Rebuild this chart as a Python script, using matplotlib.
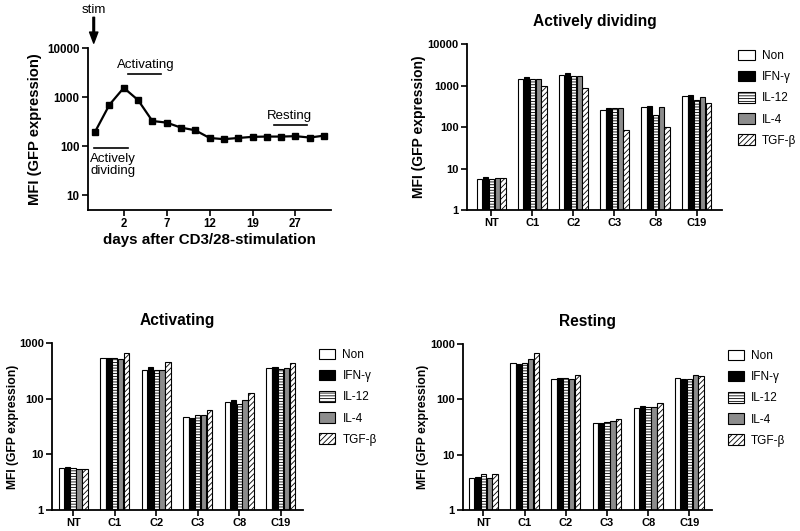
import numpy as np
import matplotlib
matplotlib.use("Agg")
import matplotlib.pyplot as plt
from matplotlib.patches import Patch
from matplotlib.ticker import FixedLocator, NullLocator

plt.rcParams['font.family'] = ['Liberation Sans', 'DejaVu Sans']
plt.rcParams['hatch.linewidth'] = 0.6

# ---- data ----
day_labels = ["2", "7", "12", "19", "27"]
day_label_pos = [2, 5, 8, 11, 14]
mfi_time = [198, 700, 1545, 870, 326, 302, 239, 211, 147, 139, 147,
            155, 157, 157, 160, 150, 164]

clones = ["NT", "C1", "C2", "C3", "C8", "C19"]
treatments = ["Non", "IFN-γ", "IL-12", "IL-4", "TGF-β"]

dividing = {
    "Non":   [5.7, 1408, 1758, 262, 303, 548],
    "IFN-γ": [6.1, 1575, 1965, 282, 327, 590],
    "IL-12": [5.7, 1408, 1725, 280, 198, 447],
    "IL-4":  [5.9, 1462, 1663, 280, 298, 528],
    "TGF-β": [5.9, 955, 887, 83, 98, 386],
}
activating = {
    "Non":   [5.6, 544, 326, 46.5, 85.5, 354],
    "IFN-γ": [5.9, 537, 375, 45.3, 92.9, 364],
    "IL-12": [5.6, 537, 331, 50.5, 80.9, 345],
    "IL-4":  [5.5, 522, 331, 50.5, 92.9, 354],
    "TGF-β": [5.5, 660, 461, 61.4, 126, 442],
}
resting = {
    "Non":   [3.84, 454, 233, 37.3, 70.7, 240],
    "IFN-γ": [3.9, 435, 240, 37.3, 74.7, 236],
    "IL-12": [4.41, 460, 240, 38.4, 72.6, 236],
    "IL-4":  [3.73, 528, 230, 40.6, 73.7, 279],
    "TGF-β": [4.54, 697, 271, 43.5, 85.9, 268],
}

styles = {
    "Non":   dict(facecolor="white", hatch=None),
    "IFN-γ": dict(facecolor="black", hatch=None),
    "IL-12": dict(facecolor="white", hatch="------"),
    "IL-4":  dict(facecolor="#8c8c8c", hatch=None),
    "TGF-β": dict(facecolor="white", hatch="//////"),
}

fig = plt.figure(figsize=(8, 5.31), dpi=100)


def style_axes(ax, size=8):
    for s in ["top", "right"]:
        ax.spines[s].set_visible(False)
    for s in ["left", "bottom"]:
        ax.spines[s].set_linewidth(1.3)
    ax.tick_params(width=1.2, length=4, labelsize=size, pad=2)
    for lab in ax.get_xticklabels() + ax.get_yticklabels():
        lab.set_fontweight("bold")


def log_ticks(ax, top):
    ax.set_yscale("log")
    vals = [v for v in [1, 10, 100, 1000, 10000] if v <= top]
    ax.yaxis.set_major_locator(FixedLocator(vals))
    ax.yaxis.set_minor_locator(NullLocator())
    ax.set_yticklabels([str(v) for v in vals])


# ---- time course ----
ax0 = fig.add_axes([0.110, 0.6045, 0.304, 0.305])
x = np.arange(len(mfi_time))
ax0.plot(x, mfi_time, color="black", lw=1.6, marker="s", ms=5)
log_ticks(ax0, 10000)
ax0.set_ylim(5, 10000)
ax0.set_xlim(-0.5, 16.5)
ax0.set_xticks(day_label_pos)
ax0.set_xticklabels(day_labels)
style_axes(ax0, 8.3)
ax0.set_ylabel("MFI (GFP expression)", fontsize=10.6, fontweight="bold", labelpad=4)
ax0.set_xlabel("days after CD3/28-stimulation", fontsize=10.9, fontweight="bold", labelpad=2)

ax0.plot([-0.07, 2.3], [90, 90], color="black", lw=1.2)
ax0.text(-0.35, 72, "Actively\ndividing", fontsize=9.5, va="top", ha="left", linespacing=1.0)
ax0.plot([2.3, 4.6], [2900, 2900], color="black", lw=1.2)
ax0.text(1.5, 3400, "Activating", fontsize=9.5, va="bottom", ha="left")
ax0.plot([12.5, 14.8], [267, 267], color="black", lw=1.2)
ax0.text(12.0, 310, "Resting", fontsize=9.5, va="bottom", ha="left")
ax0.annotate("", xy=(-0.1, 1.03), xytext=(-0.1, 1.19),
             xycoords=("data", "axes fraction"), textcoords=("data", "axes fraction"),
             arrowprops=dict(facecolor="black", edgecolor="black", width=1.2,
                             headwidth=6, headlength=8))
ax0.text(-0.1, 1.235, "stim", fontsize=9.5, ha="center", va="center",
         transform=ax0.get_xaxis_transform())


# ---- bar charts ----
def bar_panel(rect, data, title, top, xlim, ylab_size, ylab_pad):
    ax = fig.add_axes(rect)
    xc = np.arange(len(clones))
    step = 0.142
    for i, t in enumerate(treatments):
        st = styles[t]
        ax.bar(xc + (i - 2) * step, data[t], width=step * 0.92,
               facecolor=st["facecolor"], hatch=st["hatch"],
               edgecolor="black", linewidth=0.8)
    log_ticks(ax, top)
    ax.set_ylim(1, top)
    ax.set_xlim(*xlim)
    ax.set_xticks(xc)
    ax.set_xticklabels(clones)
    style_axes(ax, 8)
    ax.set_ylabel("MFI (GFP expression)", fontsize=ylab_size, fontweight="bold",
                  labelpad=ylab_pad)
    ax.set_title(title, fontsize=11.2, fontweight="bold", pad=13)
    handles = [Patch(facecolor=styles[t]["facecolor"], hatch=styles[t]["hatch"],
                     edgecolor="black", linewidth=0.8, label=t) for t in treatments]
    ax.legend(handles=handles, loc="upper left", bbox_to_anchor=(1.02, 1.03),
              frameon=False, fontsize=8.5, handlelength=1.4, handleheight=1.0,
              labelspacing=0.75, handletextpad=0.6)
    return ax


bar_panel([0.584, 0.6045, 0.319, 0.3126], dividing, "Actively dividing", 10000,
          (-0.59, 5.63), 10, 1)
bar_panel([0.065, 0.0395, 0.314, 0.3145], activating, "Activating", 1000,
          (-0.51, 5.54), 8.7, 0)
bar_panel([0.579, 0.0395, 0.311, 0.3126], resting, "Resting", 1000,
          (-0.49, 5.55), 8.7, 1)

fig.savefig("out.png", dpi=100)
